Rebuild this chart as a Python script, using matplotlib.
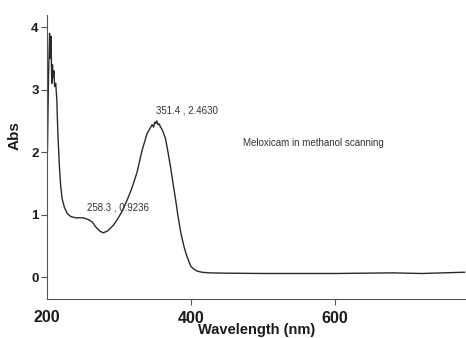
import numpy as np
import matplotlib
matplotlib.use('Agg')
import matplotlib.pyplot as plt

comprimento_onda = [200.5, 202, 203.5, 204.5, 205.5, 206.5, 207.5, 208.5, 209.5, 210.5,
                    212, 213.5, 215, 217, 219, 221, 224, 228, 233, 240,
                    250, 258, 263, 268, 273, 278, 284, 292, 298, 304,
                    310, 316, 320, 325, 332, 339, 343, 346, 348, 349.5,
                    351, 352.5, 354, 356, 357.5, 359, 361, 364.5, 368, 371.6,
                    375, 378.7, 382, 386, 390, 393, 397, 400, 404, 408,
                    415, 425, 450, 500, 550, 600, 640, 680, 700, 720,
                    750, 780]
absorbancia = [2.0, 3.2, 3.9, 3.5, 3.85, 3.1, 3.4, 3.2, 3.3, 3.05,
               3.1, 2.85, 2.3, 1.8, 1.45, 1.25, 1.12, 1.02, 0.97, 0.95,
               0.95, 0.92, 0.88, 0.8, 0.74, 0.71, 0.74, 0.83, 0.93, 1.05,
               1.2, 1.37, 1.5, 1.68, 2.03, 2.3, 2.38, 2.44, 2.4, 2.48,
               2.46, 2.5, 2.44, 2.45, 2.4, 2.38, 2.33, 2.22, 2.0, 1.76,
               1.5, 1.23, 0.97, 0.7, 0.5, 0.38, 0.25, 0.17, 0.13, 0.1,
               0.08, 0.07, 0.065, 0.06, 0.06, 0.06, 0.065, 0.07, 0.065, 0.06,
               0.07, 0.08]

ticks_x = [400, 600]
ticks_x_rotulos = ['400', '600']
ticks_y = [0, 1, 2, 3, 4]

plt.rcParams['font.family'] = ['Liberation Sans', 'DejaVu Sans']

fig = plt.figure(figsize=(4.66, 3.38), dpi=100)
ax = fig.add_axes([0.101, 0.115, 0.899, 0.84])

ax.plot(comprimento_onda, absorbancia, color='#2a2a2a', linewidth=1.0)

ax.set_xlim(200, 782)
ax.set_ylim(-0.35, 4.19)

ax.spines['top'].set_visible(False)
ax.spines['right'].set_visible(False)
ax.spines['left'].set_color('#555555')
ax.spines['bottom'].set_color('#555555')

ax.set_xticks(ticks_x)
ax.set_xticklabels(ticks_x_rotulos)
ax.set_yticks(ticks_y)
ax.tick_params(axis='x', length=4, pad=4.5, labelsize=11.5, colors='#555555', labelcolor='#1a1a1a')
ax.tick_params(axis='y', length=4, pad=2, labelsize=9.5, colors='#555555', labelcolor='#1a1a1a')
for lbl in ax.get_xticklabels() + ax.get_yticklabels():
    lbl.set_fontweight('bold')

# rotulo 200 fica no canto do eixo
fig.text(47 / 466, 1 - 318 / 338, '200', ha='center', va='center',
         fontsize=11.5, fontweight='bold', color='#1a1a1a')

fig.text(15 / 466, 1 - 136 / 338, 'Abs', rotation=90, ha='center', va='center',
         fontsize=11, fontweight='bold', color='#1a1a1a')
fig.text(257 / 466, 1 - 330 / 338, 'Wavelength (nm)', ha='center', va='center',
         fontsize=10.5, fontweight='bold', color='#1a1a1a')

# anotacoes dos picos
ax.text(351.4, 2.4630 + 0.13, '351.4 , 2.4630', fontsize=7, color='#333333',
        ha='left', va='bottom', transform=ax.transData)
fig.text(87 / 466, 1 - 208 / 338, '258.3 , 0.9236', fontsize=7, color='#333333',
         ha='left', va='center')
fig.text(243 / 466, 1 - 143 / 338, 'Meloxicam in methanol scanning', fontsize=7,
         color='#333333', ha='left', va='center')

fig.savefig('out.png', dpi=100)
